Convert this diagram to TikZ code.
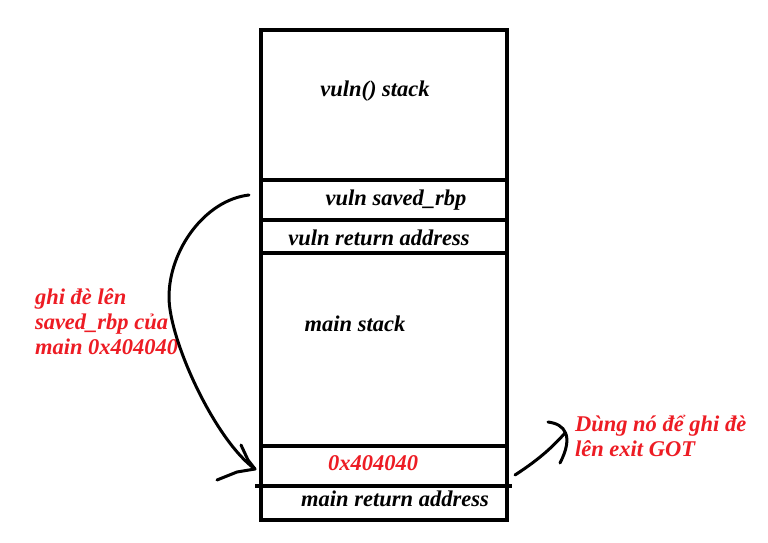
\documentclass[tikz,border=0pt]{standalone}
\usepackage{fontspec}
\setmainfont{Liberation Serif}
\definecolor{paintred}{RGB}{237,28,36}

\begin{document}
\begin{tikzpicture}[
            x=1pt, y=-1pt,
            line width=4pt,
            lbl/.style={font=\bfseries\itshape\fontsize{22.5}{25}\selectfont, inner sep=0pt},
            redlbl/.style={lbl, text=paintred, align=left},
            scribble/.style={line width=3pt, line cap=round, line join=round},
        ]
            \useasboundingbox (0, 0) rectangle (768, 542);
            % stack frames
            \draw (261, 30) rectangle (507, 180);
            \draw (261, 180) rectangle (507, 220);
            \draw (261, 220) rectangle (507, 253);
            \draw (261, 253) rectangle (507, 446);
            \draw (261, 446) rectangle (507, 520);
            \draw (255, 486) -- (512, 486);
            \node[lbl] (vulnstack) at (375, 91) {vuln() stack};
            \node[lbl] (vulnrbp) at (396, 200) {vuln saved\_rbp};
            \node[lbl] (vulnret) at (379, 238) {vuln return address};
            \node[lbl] (mainstack) at (355, 324) {main stack};
            \node[lbl, text=paintred] (fakerbp) at (373, 463) {0x404040};
            \node[lbl] (mainret) at (395, 499) {main return address};
            % notes
            \node[redlbl, anchor=west] (overwrite) at (33, 322) {ghi đè lên\\saved\_rbp của\\main 0x404040};
            \node[redlbl, anchor=west] (useit) at (573, 436) {Dùng nó để ghi đè\\lên exit GOT};
            % hand drawn arrows
            \coordinate (srcL) at (249, 195);
            \coordinate (bendL) at (169, 297);
            \coordinate (tipL) at (255, 469);
            \draw[scribble] (srcL) .. controls (205, 200) and (169, 250) .. (bendL)
                .. controls (169, 340) and (215, 440) .. (tipL);
            \draw[scribble] (241, 445) -- (248, 460) -- (tipL) -- (237, 472) -- (217, 480);
            \coordinate (srcR) at (515, 475);
            \coordinate (tipR) at (565, 433);
            \draw[scribble] (srcR) .. controls (535, 462) and (550, 450) .. (tipR);
            \draw[scribble] (548, 422) .. controls (565, 424) and (574, 436) .. (560, 463);
        \end{tikzpicture}
\end{document}
